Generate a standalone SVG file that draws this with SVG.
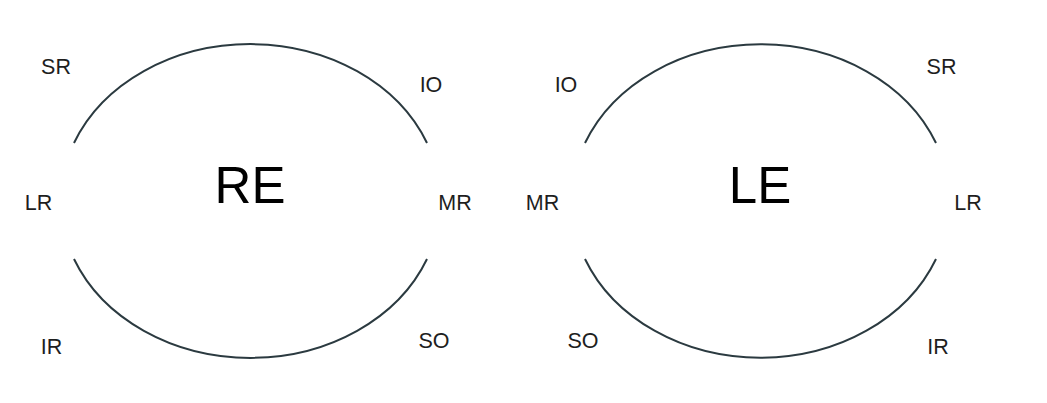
<svg xmlns="http://www.w3.org/2000/svg" width="1047" height="403" viewBox="0 0 1047 403">
<style>
.arc{fill:none;stroke:#2b3a40;stroke-width:2}
.lbl{font-family:"Liberation Sans",Arial,sans-serif;font-size:21.5px;fill:#1e1e1e;text-anchor:middle}
.eye{font-family:"Liberation Sans",Arial,sans-serif;font-size:51px;fill:#000;text-anchor:middle}
</style>
<rect width="1047" height="403" fill="#fff"/>
<g id="connectors">
<path class="arc" d="M 74 143 A 190 157 0 0 1 427 143"/>
<path class="arc" d="M 74 259 A 190 157 0 0 0 427 259"/>
<path class="arc" d="M 585 143 A 189 157 0 0 1 936 143"/>
<path class="arc" d="M 585 259 A 189 157 0 0 0 936 259"/>
</g>
<g id="re"><text class="eye" x="250" y="203">RE</text></g>
<g id="le"><text class="eye" x="760" y="203">LE</text></g>
<g id="re-sr"><text class="lbl" x="56" y="74">SR</text></g>
<g id="re-io"><text class="lbl" x="431" y="92">IO</text></g>
<g id="re-lr"><text class="lbl" x="38.5" y="210">LR</text></g>
<g id="re-mr"><text class="lbl" x="455" y="210">MR</text></g>
<g id="re-ir"><text class="lbl" x="51.5" y="354">IR</text></g>
<g id="re-so"><text class="lbl" x="434" y="348">SO</text></g>
<g id="le-io"><text class="lbl" x="566" y="92">IO</text></g>
<g id="le-sr"><text class="lbl" x="941.5" y="74">SR</text></g>
<g id="le-mr"><text class="lbl" x="542.5" y="210">MR</text></g>
<g id="le-lr"><text class="lbl" x="968" y="210">LR</text></g>
<g id="le-so"><text class="lbl" x="583" y="348">SO</text></g>
<g id="le-ir"><text class="lbl" x="938" y="354">IR</text></g>
</svg>
